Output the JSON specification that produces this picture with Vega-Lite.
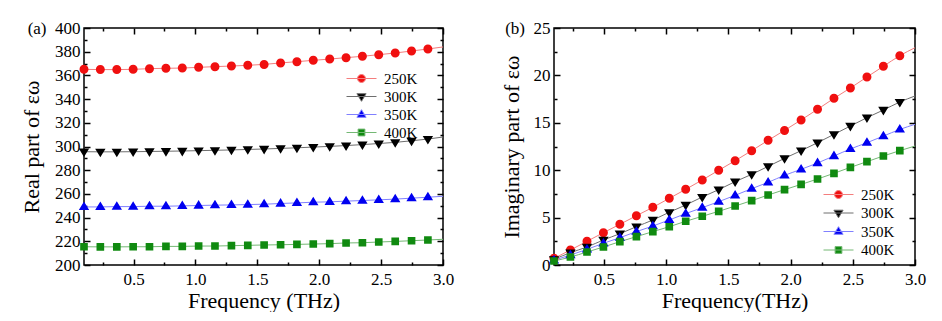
{
"$schema":"https://vega.github.io/schema/vega-lite/v6.json",
"background":"white",
"padding":{"left":19,"top":18,"right":0,"bottom":0},
"spacing":44,
"config":{
 "font":"Liberation Serif, Times New Roman, serif",
 "view":{"stroke":"black","strokeWidth":1.5},
 "axis":{"grid":false,"domain":false,"tickColor":"black","labelColor":"black","titleColor":"black","labelFont":"Liberation Serif, Times New Roman, serif","titleFont":"Liberation Serif, Times New Roman, serif","labelFontSize":17,"titleFontSize":22,"titleFontWeight":"normal","tickWidth":1.5,"labelOverlap":false,"labelFlush":false},
 "legend":{"labelFont":"Liberation Serif, Times New Roman, serif","labelFontSize":15,"labelColor":"black","symbolSize":64,"padding":0,"symbolStrokeWidth":1}
},
"datasets":{
"real":[
{"f":0.1,"T":"250K","v":365.1,"m":1},{"f":0.232,"T":"250K","v":364.9,"m":1},{"f":0.365,"T":"250K","v":364.9,"m":1},{"f":0.497,"T":"250K","v":365.1,"m":1},{"f":0.629,"T":"250K","v":365.7,"m":1},{"f":0.762,"T":"250K","v":366.0,"m":1},{"f":0.894,"T":"250K","v":366.2,"m":1},{"f":1.026,"T":"250K","v":366.8,"m":1},{"f":1.158,"T":"250K","v":367.4,"m":1},{"f":1.291,"T":"250K","v":367.9,"m":1},{"f":1.423,"T":"250K","v":368.5,"m":1},{"f":1.555,"T":"250K","v":369.3,"m":1},{"f":1.688,"T":"250K","v":370.5,"m":1},{"f":1.82,"T":"250K","v":371.6,"m":1},{"f":1.952,"T":"250K","v":372.7,"m":1},{"f":2.085,"T":"250K","v":373.8,"m":1},{"f":2.217,"T":"250K","v":375.0,"m":1},{"f":2.349,"T":"250K","v":376.1,"m":1},{"f":2.481,"T":"250K","v":377.5,"m":1},{"f":2.614,"T":"250K","v":378.9,"m":1},{"f":2.746,"T":"250K","v":380.6,"m":1},{"f":2.878,"T":"250K","v":382.3,"m":1},{"f":3.0,"T":"250K","v":384.0,"m":0},
{"f":0.1,"T":"300K","v":295.6,"m":1},{"f":0.232,"T":"300K","v":295.5,"m":1},{"f":0.365,"T":"300K","v":295.5,"m":1},{"f":0.497,"T":"300K","v":295.6,"m":1},{"f":0.629,"T":"300K","v":295.8,"m":1},{"f":0.762,"T":"300K","v":296.0,"m":1},{"f":0.894,"T":"300K","v":296.2,"m":1},{"f":1.026,"T":"300K","v":296.5,"m":1},{"f":1.158,"T":"300K","v":296.8,"m":1},{"f":1.291,"T":"300K","v":297.1,"m":1},{"f":1.423,"T":"300K","v":297.5,"m":1},{"f":1.555,"T":"300K","v":297.9,"m":1},{"f":1.688,"T":"300K","v":298.4,"m":1},{"f":1.82,"T":"300K","v":298.9,"m":1},{"f":1.952,"T":"300K","v":299.5,"m":1},{"f":2.085,"T":"300K","v":300.1,"m":1},{"f":2.217,"T":"300K","v":300.8,"m":1},{"f":2.349,"T":"300K","v":301.6,"m":1},{"f":2.481,"T":"300K","v":302.5,"m":1},{"f":2.614,"T":"300K","v":303.5,"m":1},{"f":2.746,"T":"300K","v":304.8,"m":1},{"f":2.878,"T":"300K","v":306.3,"m":1},{"f":3.0,"T":"300K","v":308.0,"m":0},
{"f":0.1,"T":"350K","v":249.0,"m":1},{"f":0.232,"T":"350K","v":249.0,"m":1},{"f":0.365,"T":"350K","v":249.3,"m":1},{"f":0.497,"T":"350K","v":249.3,"m":1},{"f":0.629,"T":"350K","v":249.6,"m":1},{"f":0.762,"T":"350K","v":249.6,"m":1},{"f":0.894,"T":"350K","v":249.9,"m":1},{"f":1.026,"T":"350K","v":250.2,"m":1},{"f":1.158,"T":"350K","v":250.5,"m":1},{"f":1.291,"T":"350K","v":250.7,"m":1},{"f":1.423,"T":"350K","v":251.0,"m":1},{"f":1.555,"T":"350K","v":251.3,"m":1},{"f":1.688,"T":"350K","v":251.9,"m":1},{"f":1.82,"T":"350K","v":252.4,"m":1},{"f":1.952,"T":"350K","v":253.0,"m":1},{"f":2.085,"T":"350K","v":253.3,"m":1},{"f":2.217,"T":"350K","v":253.9,"m":1},{"f":2.349,"T":"350K","v":254.4,"m":1},{"f":2.481,"T":"350K","v":255.0,"m":1},{"f":2.614,"T":"350K","v":255.6,"m":1},{"f":2.746,"T":"350K","v":256.4,"m":1},{"f":2.878,"T":"350K","v":257.2,"m":1},{"f":3.0,"T":"350K","v":258.0,"m":0},
{"f":0.1,"T":"400K","v":215.4,"m":1},{"f":0.232,"T":"400K","v":215.3,"m":1},{"f":0.365,"T":"400K","v":215.3,"m":1},{"f":0.497,"T":"400K","v":215.4,"m":1},{"f":0.629,"T":"400K","v":215.4,"m":1},{"f":0.762,"T":"400K","v":215.7,"m":1},{"f":0.894,"T":"400K","v":215.7,"m":1},{"f":1.026,"T":"400K","v":216.0,"m":1},{"f":1.158,"T":"400K","v":216.0,"m":1},{"f":1.291,"T":"400K","v":216.3,"m":1},{"f":1.423,"T":"400K","v":216.6,"m":1},{"f":1.555,"T":"400K","v":216.9,"m":1},{"f":1.688,"T":"400K","v":217.1,"m":1},{"f":1.82,"T":"400K","v":217.4,"m":1},{"f":1.952,"T":"400K","v":217.7,"m":1},{"f":2.085,"T":"400K","v":218.0,"m":1},{"f":2.217,"T":"400K","v":218.6,"m":1},{"f":2.349,"T":"400K","v":218.8,"m":1},{"f":2.481,"T":"400K","v":219.4,"m":1},{"f":2.614,"T":"400K","v":219.9,"m":1},{"f":2.746,"T":"400K","v":220.5,"m":1},{"f":2.878,"T":"400K","v":221.1,"m":1},{"f":3.0,"T":"400K","v":221.7,"m":0}
],
"imag":[
{"f":0.1,"T":"250K","v":0.7,"m":1},{"f":0.232,"T":"250K","v":1.58,"m":1},{"f":0.365,"T":"250K","v":2.5,"m":1},{"f":0.497,"T":"250K","v":3.41,"m":1},{"f":0.629,"T":"250K","v":4.29,"m":1},{"f":0.762,"T":"250K","v":5.2,"m":1},{"f":0.894,"T":"250K","v":6.08,"m":1},{"f":1.026,"T":"250K","v":7.03,"m":1},{"f":1.158,"T":"250K","v":7.98,"m":1},{"f":1.291,"T":"250K","v":8.97,"m":1},{"f":1.423,"T":"250K","v":9.99,"m":1},{"f":1.555,"T":"250K","v":11.0,"m":1},{"f":1.688,"T":"250K","v":12.06,"m":1},{"f":1.82,"T":"250K","v":13.15,"m":1},{"f":1.952,"T":"250K","v":14.2,"m":1},{"f":2.085,"T":"250K","v":15.3,"m":1},{"f":2.217,"T":"250K","v":16.42,"m":1},{"f":2.349,"T":"250K","v":17.58,"m":1},{"f":2.481,"T":"250K","v":18.67,"m":1},{"f":2.614,"T":"250K","v":19.83,"m":1},{"f":2.746,"T":"250K","v":20.96,"m":1},{"f":2.878,"T":"250K","v":22.08,"m":1},{"f":3.0,"T":"250K","v":22.92,"m":0},
{"f":0.1,"T":"300K","v":0.6,"m":1},{"f":0.232,"T":"300K","v":1.3,"m":1},{"f":0.365,"T":"300K","v":1.9,"m":1},{"f":0.497,"T":"300K","v":2.64,"m":1},{"f":0.629,"T":"300K","v":3.3,"m":1},{"f":0.762,"T":"300K","v":4.04,"m":1},{"f":0.894,"T":"300K","v":4.75,"m":1},{"f":1.026,"T":"300K","v":5.56,"m":1},{"f":1.158,"T":"300K","v":6.33,"m":1},{"f":1.291,"T":"300K","v":7.17,"m":1},{"f":1.423,"T":"300K","v":7.95,"m":1},{"f":1.555,"T":"300K","v":8.79,"m":1},{"f":1.688,"T":"300K","v":9.56,"m":1},{"f":1.82,"T":"300K","v":10.4,"m":1},{"f":1.952,"T":"300K","v":11.25,"m":1},{"f":2.085,"T":"300K","v":12.06,"m":1},{"f":2.217,"T":"300K","v":12.9,"m":1},{"f":2.349,"T":"300K","v":13.78,"m":1},{"f":2.481,"T":"300K","v":14.66,"m":1},{"f":2.614,"T":"300K","v":15.54,"m":1},{"f":2.746,"T":"300K","v":16.35,"m":1},{"f":2.878,"T":"300K","v":17.19,"m":1},{"f":3.0,"T":"300K","v":17.83,"m":0},
{"f":0.1,"T":"350K","v":0.5,"m":1},{"f":0.232,"T":"350K","v":1.05,"m":1},{"f":0.365,"T":"350K","v":1.65,"m":1},{"f":0.497,"T":"350K","v":2.29,"m":1},{"f":0.629,"T":"350K","v":2.88,"m":1},{"f":0.762,"T":"350K","v":3.52,"m":1},{"f":0.894,"T":"350K","v":4.11,"m":1},{"f":1.026,"T":"350K","v":4.75,"m":1},{"f":1.158,"T":"350K","v":5.42,"m":1},{"f":1.291,"T":"350K","v":6.05,"m":1},{"f":1.423,"T":"350K","v":6.68,"m":1},{"f":1.555,"T":"350K","v":7.35,"m":1},{"f":1.688,"T":"350K","v":8.05,"m":1},{"f":1.82,"T":"350K","v":8.72,"m":1},{"f":1.952,"T":"350K","v":9.46,"m":1},{"f":2.085,"T":"350K","v":10.09,"m":1},{"f":2.217,"T":"350K","v":10.76,"m":1},{"f":2.349,"T":"350K","v":11.5,"m":1},{"f":2.481,"T":"350K","v":12.24,"m":1},{"f":2.614,"T":"350K","v":12.9,"m":1},{"f":2.746,"T":"350K","v":13.6,"m":1},{"f":2.878,"T":"350K","v":14.3,"m":1},{"f":3.0,"T":"350K","v":14.84,"m":0},
{"f":0.1,"T":"400K","v":0.42,"m":1},{"f":0.232,"T":"400K","v":0.84,"m":1},{"f":0.365,"T":"400K","v":1.37,"m":1},{"f":0.497,"T":"400K","v":1.9,"m":1},{"f":0.629,"T":"400K","v":2.46,"m":1},{"f":0.762,"T":"400K","v":2.99,"m":1},{"f":0.894,"T":"400K","v":3.52,"m":1},{"f":1.026,"T":"400K","v":4.04,"m":1},{"f":1.158,"T":"400K","v":4.61,"m":1},{"f":1.291,"T":"400K","v":5.14,"m":1},{"f":1.423,"T":"400K","v":5.66,"m":1},{"f":1.555,"T":"400K","v":6.22,"m":1},{"f":1.688,"T":"400K","v":6.79,"m":1},{"f":1.82,"T":"400K","v":7.38,"m":1},{"f":1.952,"T":"400K","v":7.95,"m":1},{"f":2.085,"T":"400K","v":8.5,"m":1},{"f":2.217,"T":"400K","v":9.07,"m":1},{"f":2.349,"T":"400K","v":9.67,"m":1},{"f":2.481,"T":"400K","v":10.3,"m":1},{"f":2.614,"T":"400K","v":10.9,"m":1},{"f":2.746,"T":"400K","v":11.5,"m":1},{"f":2.878,"T":"400K","v":12.06,"m":1},{"f":3.0,"T":"400K","v":12.55,"m":0}
]},
"resolve":{"scale":{"color":"independent","shape":"independent","stroke":"independent"},"legend":{"color":"independent","shape":"independent","stroke":"independent"}},
"hconcat":[
{
 "width":359,"height":237,
 "data":{"name":"real"},
 "resolve":{"axis":{"x":"independent","y":"independent"}},
 "layer":[
  {"mark":{"type":"line","strokeWidth":1,"interpolate":"monotone"},
   "encoding":{
    "x":{"field":"f","type":"quantitative","scale":{"domain":[0.1,3.0],"nice":false,"zero":false},
      "axis":{"orient":"bottom","title":"Frequency (THz)","values":[0.25,0.5,0.75,1.0,1.25,1.5,1.75,2.0,2.25,2.5,2.75,3.0],
        "labelExpr":"(datum.value*4)%2==0 ? format(datum.value,'.1f') : ''",
        "tickSize":{"condition":{"test":"(datum.value*4)%2==0","value":-6},"value":-3},
        "labelPadding":12,"titlePadding":0}},
    "y":{"field":"v","type":"quantitative","scale":{"domain":[200,400],"nice":false,"zero":false},
      "axis":{"orient":"left","title":"Real part of εω","values":[200,210,220,230,240,250,260,270,280,290,300,310,320,330,340,350,360,370,380,390,400],
        "labelExpr":"datum.value==400 ? '(a)\u00a0\u00a0400' : datum.value%20==0 ? datum.label : ''",
        "tickSize":{"condition":{"test":"datum.value%20==0","value":-6},"value":-3},
        "labelPadding":10,"titleX":-46,"titleY":118.5,"titleBaseline":"alphabetic","titleAnchor":"middle"}},
    "stroke":{"field":"T","type":"nominal","scale":{"domain":["250K","300K","350K","400K"],"range":["#f47d7d","#6e6e6e","#8080ff","#74b874"]},
      "legend":{"title":null,"orient":"none","legendX":270,"legendY":43,"labelOffset":15,"rowPadding":2}}
   }},
  {"transform":[{"filter":"datum.m==1"}],
   "mark":{"type":"point","filled":true,"size":81,"strokeWidth":0,"opacity":1},
   "encoding":{
    "x":{"field":"f","type":"quantitative","axis":{"orient":"top","title":null,"labels":false,"values":[0.25,0.5,0.75,1.0,1.25,1.5,1.75,2.0,2.25,2.5,2.75,3.0],
        "tickSize":{"condition":{"test":"(datum.value*4)%2==0","value":-6},"value":-3}}},
    "y":{"field":"v","type":"quantitative","axis":{"orient":"right","title":null,"labels":false,"values":[200,210,220,230,240,250,260,270,280,290,300,310,320,330,340,350,360,370,380,390,400],
        "tickSize":{"condition":{"test":"datum.value%20==0","value":-6},"value":-3}}},
    "color":{"field":"T","type":"nominal","scale":{"domain":["250K","300K","350K","400K"],"range":["#f01010","#000000","#0000f0","#108a10"]},
      "legend":{"title":null,"orient":"none","legendX":270,"legendY":43,"labelOffset":15,"rowPadding":2}},
    "shape":{"field":"T","type":"nominal","scale":{"domain":["250K","300K","350K","400K"],"range":["M-3.75,0H3.75M1,0A1,1,0,1,1,-1,0A1,1,0,1,1,1,0Z","M-3.75,0H3.75M-1.15,-0.7L1.15,-0.7L0,1.2Z","M-3.75,0H3.75M-1.15,0.7L1.15,0.7L0,-1.2Z","M-3.75,0H3.75M-0.85,-0.85H0.85V0.85H-0.85Z"]},
      "legend":{"title":null,"orient":"none","legendX":270,"legendY":43,"labelOffset":15,"rowPadding":2}}
   }}
 ]
},
{
 "width":361,"height":237,
 "data":{"name":"imag"},
 "resolve":{"axis":{"x":"independent","y":"independent"}},
 "layer":[
  {"mark":{"type":"line","strokeWidth":1,"interpolate":"monotone"},
   "encoding":{
    "x":{"field":"f","type":"quantitative","scale":{"domain":[0.1,3.0],"nice":false,"zero":false},
      "axis":{"orient":"bottom","title":"Frequency(THz)","values":[0.25,0.5,0.75,1.0,1.25,1.5,1.75,2.0,2.25,2.5,2.75,3.0],
        "labelExpr":"(datum.value*4)%2==0 ? format(datum.value,'.1f') : ''",
        "tickSize":{"condition":{"test":"(datum.value*4)%2==0","value":-6},"value":-3},
        "labelPadding":12,"titlePadding":0}},
    "y":{"field":"v","type":"quantitative","scale":{"domain":[0,25],"nice":false,"zero":false},
      "axis":{"orient":"left","title":"Imaginary part of εω","values":[0,2.5,5,7.5,10,12.5,15,17.5,20,22.5,25],
        "labelExpr":"datum.value==25 ? '(b)\u00a0\u00a025' : datum.value%5==0 ? datum.label : ''",
        "tickSize":{"condition":{"test":"datum.value%5==0","value":-6},"value":-3},
        "labelPadding":10,"titleX":-36,"titleY":118.5,"titleBaseline":"alphabetic","titleAnchor":"middle"}},
    "stroke":{"field":"T","type":"nominal","scale":{"domain":["250K","300K","350K","400K"],"range":["#f47d7d","#6e6e6e","#8080ff","#74b874"]},
      "legend":{"title":null,"orient":"none","legendX":277,"legendY":159,"labelOffset":15,"rowPadding":2.5}}
   }},
  {"transform":[{"filter":"datum.m==1"}],
   "mark":{"type":"point","filled":true,"size":81,"strokeWidth":0,"opacity":1},
   "encoding":{
    "x":{"field":"f","type":"quantitative","axis":{"orient":"top","title":null,"labels":false,"values":[0.25,0.5,0.75,1.0,1.25,1.5,1.75,2.0,2.25,2.5,2.75,3.0],
        "tickSize":{"condition":{"test":"(datum.value*4)%2==0","value":-6},"value":-3}}},
    "y":{"field":"v","type":"quantitative","axis":{"orient":"right","title":null,"labels":false,"values":[0,2.5,5,7.5,10,12.5,15,17.5,20,22.5,25],
        "tickSize":{"condition":{"test":"datum.value%5==0","value":-6},"value":-3}}},
    "color":{"field":"T","type":"nominal","scale":{"domain":["250K","300K","350K","400K"],"range":["#f01010","#000000","#0000f0","#108a10"]},
      "legend":{"title":null,"orient":"none","legendX":277,"legendY":159,"labelOffset":15,"rowPadding":2.5}},
    "shape":{"field":"T","type":"nominal","scale":{"domain":["250K","300K","350K","400K"],"range":["M-3.75,0H3.75M1,0A1,1,0,1,1,-1,0A1,1,0,1,1,1,0Z","M-3.75,0H3.75M-1.15,-0.7L1.15,-0.7L0,1.2Z","M-3.75,0H3.75M-1.15,0.7L1.15,0.7L0,-1.2Z","M-3.75,0H3.75M-0.85,-0.85H0.85V0.85H-0.85Z"]},
      "legend":{"title":null,"orient":"none","legendX":277,"legendY":159,"labelOffset":15,"rowPadding":2.5}}
   }}
 ]
}
]
}
